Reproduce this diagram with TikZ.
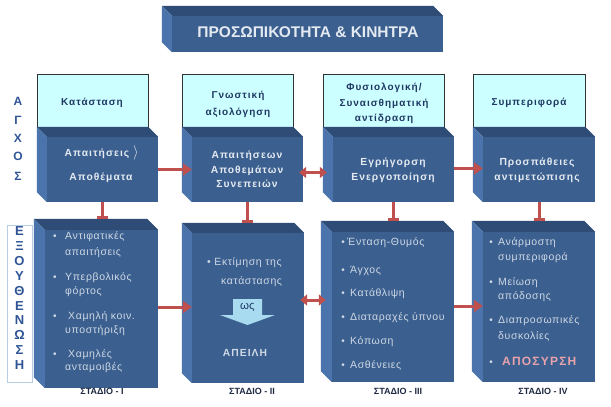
\documentclass[tikz,border=0pt]{standalone}
\usepackage{fontspec}
\setmainfont{Liberation Sans}
\newfontfamily\spacedfont[LetterSpace=10]{Liberation Sans}
\newfontfamily\lightspaced[LetterSpace=6]{Liberation Sans}
\usetikzlibrary{arrows.meta,calc}
\definecolor{frontc}{HTML}{3B5F8E}
\definecolor{topc}{HTML}{2E4C76}
\definecolor{sidec}{HTML}{4A74AB}
\definecolor{cyanc}{HTML}{CCFFFF}
\definecolor{redc}{HTML}{C0504D}
\definecolor{navy}{HTML}{1F3864}
\definecolor{sideletter}{HTML}{2F5597}
\definecolor{lighttxt}{HTML}{E4EAF2}
\definecolor{bodyc}{HTML}{CFD9E6}
\definecolor{pinkc}{HTML}{E8A3AC}
\definecolor{wsc}{HTML}{A9DBF0}
\definecolor{stagec}{HTML}{1F2A44}
\definecolor{framec}{HTML}{B8CCE4}
\pgfdeclarelayer{bg}
\pgfsetlayers{bg,main}
\newcommand{\cubebox}[6]{%
  \node[frontface, minimum width={(#4-#2)*1pt}, minimum height={(#5-#3)*1pt}] (#1) at ({(#2+#4)/2},{(#3+#5)/2}) {};
  \fill[topc] (#1.north west) -- (#1.north east) -- ++(-#6,-#6) -- ($(#1.north west)+(-#6,-#6)$) -- cycle;
  \fill[sidec] (#1.north west) -- (#1.south west) -- ++(-#6,-#6) -- ($(#1.north west)+(-#6,-#6)$) -- cycle;
}
\tikzset{
  frontface/.style={rectangle, fill=frontc, inner sep=0pt, draw=none},
  cyanbox/.style={rectangle, fill=cyanc, draw=black!80, line width=0.6pt, inner sep=0pt, minimum height=53pt},
  txt/.style={inner sep=0pt, text height=7pt, text depth=2pt},
  toptxt/.style={txt, font=\fontsize{15.5}{17}\selectfont\bfseries, text=lighttxt},
  cyantxt/.style={txt, font=\spacedfont\fontsize{10}{11}\selectfont\bfseries, text=navy},
  midtxt/.style={txt, font=\spacedfont\fontsize{10.3}{12}\selectfont\bfseries, text=lighttxt},
  bodytxt/.style={txt, anchor=west, font=\lightspaced\fontsize{10.5}{12}\selectfont, text=bodyc},
  bul/.style={txt, font=\fontsize{10}{12}\selectfont, text=bodyc},
  stagetxt/.style={txt, font=\fontsize{9}{10}\selectfont\bfseries, text=stagec},
  sidetxt/.style={txt, font=\fontsize{12}{13}\selectfont\bfseries, text=sideletter},
  redline/.style={draw=redc, line width=3pt},
  redarr/.style={redline, -{Triangle[length=9pt,width=12pt]}},
  dblarr/.style={redline, {Triangle[length=7pt,width=11pt]}-{Triangle[length=7pt,width=11pt]}},
  teearr/.style={redline, -{Bar[width=11pt,line width=3pt]}},
  downarr/.style={redline, -{Triangle[length=8pt,width=11pt]}},
}
\begin{document}
\begin{tikzpicture}[x=1pt,y=-1pt]
\fill[white] (0,0) rectangle (611,407);
\useasboundingbox (0,0) rectangle (611,407);

% top box
\cubebox{T}{172}{16}{443}{52}{10}
\node[toptxt] (Tt) at (308,35) {ΠΡΟΣΩΠΙΚΟΤΗΤΑ \& ΚΙΝΗΤΡΑ};

% cyan row
\node[cyanbox, minimum width=111pt] (C1) at (92.5,100.5) {};
\node[cyanbox, minimum width=111pt] (C2) at (237.5,100.5) {};
\node[cyanbox, minimum width=121pt] (C3) at (383.5,100.5) {};
\node[cyanbox, minimum width=112pt] (C4) at (529,100.5) {};
\node[cyantxt] (c1a) at (92,103) {Κατάσταση};
\node[cyantxt] (c2a) at (238,96) {Γνωστική};
\node[cyantxt] (c2b) at (238,113) {αξιολόγηση};
\node[cyantxt] (c3a) at (384,88) {Φυσιολογική/};
\node[cyantxt] (c3b) at (384,104) {Συναισθηματική};
\node[cyantxt] (c3c) at (384,119) {αντίδραση};
\node[cyantxt] (c4a) at (529,103) {Συμπεριφορά};

% middle row
\cubebox{M1}{47}{137}{158}{202}{10}
\cubebox{M2}{192}{137}{303}{202}{10}
\cubebox{M3}{333}{137}{454}{202}{10}
\cubebox{M4}{483}{137}{595}{202}{10}
\node[midtxt] (m1a) at (97,154) {Απαιτήσεις};
\node[inner sep=0pt, text=lighttxt, font=\fontsize{15}{15}\selectfont] (m1br) at (136,153) {$\rangle$};
\node[midtxt] (m1b) at (101,178) {Αποθέματα};
\node[midtxt] (m2a) at (247,156) {Απαιτήσεων};
\node[midtxt] (m2b) at (247,171) {Αποθεμάτων};
\node[midtxt] (m2c) at (247,185) {Συνεπειών};
\node[midtxt] (m3a) at (393,163) {Εγρήγορση};
\node[midtxt] (m3b) at (393,178) {Ενεργοποίηση};
\node[midtxt] (m4a) at (537,163) {Προσπάθειες};
\node[midtxt] (m4b) at (537,178) {αντιμετώπισης};

% bottom row
\cubebox{B1}{45}{230}{158}{388}{11}
\cubebox{B2}{192}{233}{304}{383}{10}
\cubebox{B3}{332}{232}{454}{382}{11}
\cubebox{B4}{483}{232}{595}{382}{11}

% B1 texts
\node[bul] (b1u1) at (55,237) {•};
\node[bodytxt] (b1a) at (65,237) {Αντιφατικές};
\node[bodytxt] (b1b) at (65,253) {απαιτήσεις};
\node[bul] (b1u2) at (55,278) {•};
\node[bodytxt] (b1c) at (65,278) {Υπερβολικός};
\node[bodytxt] (b1d) at (65,292) {φόρτος};
\node[bul] (b1u3) at (55,317) {•};
\node[bodytxt] (b1e) at (68,317) {Χαμηλή κοιν.};
\node[bodytxt] (b1f) at (65,331) {υποστήριξη};
\node[bul] (b1u4) at (55,355) {•};
\node[bodytxt] (b1g) at (68,355) {Χαμηλές};
\node[bodytxt] (b1h) at (65,368) {ανταμοιβές};

% B2 texts
\node[bodytxt] (b2a) at (207,263) {• Εκτίμηση της};
\node[bodytxt] (b2b) at (221,282) {κατάστασης};
\fill[wsc] (233,299) -- (262,299) -- (262,315) -- (275,315) -- (247.5,325) -- (220,315) -- (233,315) -- cycle;
\node[txt, font=\fontsize{11.5}{12}\selectfont, text=navy] (ws) at (247.5,307) {ως};
\node[midtxt, text=bodyc] (apeili) at (245,354) {ΑΠΕΙΛΗ};

% B3 texts
\node[bul] (b3u1) at (343,243) {•};
\node[bodytxt] (b3a) at (347,243) {Ένταση-Θυμός};
\node[bul] (b3u2) at (343,271) {•};
\node[bodytxt] (b3b) at (350,271) {Άγχος};
\node[bul] (b3u3) at (343,294) {•};
\node[bodytxt] (b3c) at (350,294) {Κατάθλιψη};
\node[bul] (b3u4) at (343,318) {•};
\node[bodytxt] (b3d) at (350,318) {Διαταραχές ύπνου};
\node[bul] (b3u5) at (343,342) {•};
\node[bodytxt] (b3e) at (350,342) {Κόπωση};
\node[bul] (b3u6) at (343,366) {•};
\node[bodytxt] (b3f) at (350,366) {Ασθένειες};

% B4 texts
\node[bul] (b4u1) at (491,243) {•};
\node[bodytxt] (b4a) at (498,243) {Ανάρμοστη};
\node[bodytxt] (b4b) at (498,258) {συμπεριφορά};
\node[bul] (b4u2) at (491,283) {•};
\node[bodytxt] (b4c) at (498,283) {Μείωση};
\node[bodytxt] (b4d) at (498,297) {απόδοσης};
\node[bul] (b4u3) at (491,321) {•};
\node[bodytxt] (b4e) at (498,321) {Διαπροσωπικές};
\node[bodytxt] (b4f) at (498,337) {δυσκολίες};
\node[bul] (b4u4) at (491,363) {•};
\node[txt, anchor=west, font=\spacedfont\fontsize{12}{13}\selectfont\bfseries, text=pinkc] (aposyrsi) at (502,363) {ΑΠΟΣΥΡΣΗ};

% stage labels
\node[stagetxt] (s1) at (102,392) {ΣΤΑΔΙΟ - Ι};
\node[stagetxt] (s2) at (252,392) {ΣΤΑΔΙΟ - ΙΙ};
\node[stagetxt] (s3) at (398,392) {ΣΤΑΔΙΟ - ΙΙΙ};
\node[stagetxt] (s4) at (543,392) {ΣΤΑΔΙΟ - ΙV};

% side labels
\node[sidetxt] (g1) at (18,103) {Α};
\node[sidetxt] (g2) at (18,122) {Γ};
\node[sidetxt] (g3) at (18,140) {Χ};
\node[sidetxt] (g4) at (18,158) {Ο};
\node[sidetxt] (g5) at (18,178) {Σ};
\node[draw=framec, line width=0.6pt, minimum width=25pt, minimum height=157pt, inner sep=0pt] (EF) at (19.5,303.5) {};
\foreach \l [count=\i from 0] in {Ε,Ξ,Ο,Υ,Θ,Ε,Ν,Ω,Σ,Η} {
  \node[sidetxt, font=\fontsize{13}{14}\selectfont\bfseries] (e\i) at (19.5,{233+\i*14.9}) {\l};
}

% connectors behind boxes
\begin{pgfonlayer}{bg}
\draw[downarr] (T.west) -| (C1.north);
\draw[downarr] (T.east) -| (C4.north);
\draw[downarr] (T.south -| C2.north) -- (C2.north);
\draw[downarr] (T.south -| C3.north) -- (C3.north);
\end{pgfonlayer}

% row arrows
\draw[redarr] (M1.east) -- (M2.west);
\coordinate (a23) at ([yshift=-3pt]M2.east);
\draw[dblarr, shorten <=-4pt, shorten >=6pt] (a23) -- (a23 -| M3.west);
\draw[redarr] ([yshift=1pt]M3.east) -- ([yshift=1pt]M3.east -| M4.west);

\coordinate (r12) at ([yshift=2pt]B1.east);
\draw[redarr] (r12) -- (r12 -| B2.west);
\coordinate (r23) at ([yshift=8pt]B2.east);
\draw[dblarr, shorten <=-4pt, shorten >=6pt] (r23) -- (r23 -| B3.west);
\coordinate (r34) at ([yshift=1pt]B3.east);
\draw[redarr] (r34) -- (r34 -| B4.west);

% tee connectors
\draw[teearr] (M1.south) -- (M1.south |- 0,219);
\draw[teearr] (M2.south) -- (M2.south |- 0,223);
\draw[teearr] (M3.south) -- (M3.south |- 0,221);
\draw[teearr] (M4.south) -- (M4.south |- 0,221);
\end{tikzpicture}
\end{document}
